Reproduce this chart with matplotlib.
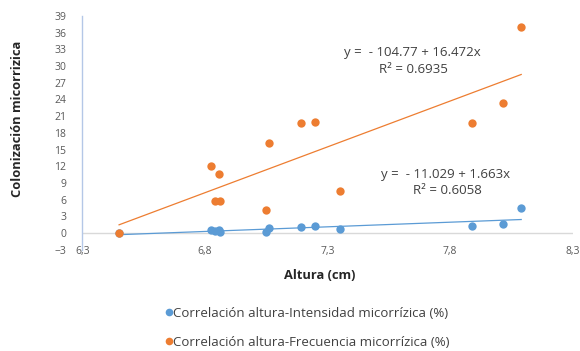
import matplotlib
matplotlib.use('Agg')
import matplotlib.pyplot as plt
from matplotlib.lines import Line2D

# ------------------------- Datos -------------------------
altura = [6.45, 6.825, 6.842, 6.859, 6.861, 7.05, 7.06, 7.192, 7.25, 7.35, 7.89, 8.015, 8.09]
intensidad = [0.0, 0.56, 0.3, 0.6, 0.12, 0.25, 0.93, 1.05, 1.17, 0.68, 1.3, 1.55, 4.45]
frecuencia = [0.0, 12.1, 5.8, 10.6, 5.8, 4.1, 16.1, 19.7, 20.0, 7.6, 19.7, 23.3, 37.0]

# coeficientes de las lineas de tendencia (intercepto, pendiente)
coef_int = (-11.029, 1.663)
coef_frec = (-104.77, 16.472)
ecuacion_int = ['y =  - 11.029 + 1.663x', 'R² = 0.6058']
ecuacion_frec = ['y =  - 104.77 + 16.472x', 'R² = 0.6935']

xticks = [6.3, 6.8, 7.3, 7.8, 8.3]
xtick_labels = ['6,3', '6,8', '7,3', '7,8', '8,3']
yticks = list(range(-3, 40, 3))

nombres = ['Correlación altura-Intensidad micorrízica (%)',
           'Correlación altura-Frecuencia micorrízica (%)']

azul = '#5B9BD5'
naranja = '#ED7D31'
gris = '#595959'

plt.rcParams['font.family'] = ['Open Sans', 'DejaVu Sans']

fig = plt.figure(figsize=(5.8, 3.51), dpi=100)
ax = fig.add_axes([82.3 / 580, 1 - 249.7 / 351, (572.7 - 82.3) / 580, (249.7 - 16) / 351])

# lineas de tendencia
xs = [min(altura), max(altura)]
ax.plot(xs, [coef_int[0] + coef_int[1] * v for v in xs], color=azul, lw=0.9, zorder=3)
ax.plot(xs, [coef_frec[0] + coef_frec[1] * v for v in xs], color=naranja, lw=0.9, zorder=3)

ax.scatter(altura, intensidad, s=36, color=azul, zorder=4, linewidths=0)
ax.scatter(altura, frecuencia, s=36, color=naranja, zorder=4, linewidths=0)

ax.axhline(0, color='#d9d9d9', lw=1, zorder=1)

ax.set_xlim(6.3, 8.3)
ax.set_ylim(-3, 39)
ax.set_xticks(xticks)
ax.set_xticklabels(xtick_labels)
ax.set_yticks(yticks)

for s in ['top', 'right', 'bottom']:
    ax.spines[s].set_visible(False)
ax.spines['left'].set_color('#b4c7e7')
ax.spines['left'].set_linewidth(1)

ax.tick_params(axis='x', length=0, pad=-2.5, labelsize=7.5, labelcolor=gris)
ax.tick_params(axis='y', length=0, pad=11.5, labelsize=7.5, labelcolor=gris)

ax.set_xlabel('Altura (cm)', fontsize=9.3, fontweight='bold', color='#262626')
ax.xaxis.set_label_coords(0.485, -0.084)
ax.set_ylabel('Colonización micorrizica', fontsize=9.3, fontweight='bold', color='#262626')
ax.yaxis.set_label_coords(-0.118, 0.559)

# ecuaciones
ax.text(7.645, 32.5, ecuacion_frec[0], ha='center', va='center', fontsize=9.5, color='#404040')
ax.text(7.65, 29.3, ecuacion_frec[1], ha='center', va='center', fontsize=9.5, color='#404040')
ax.text(7.783, 10.6, ecuacion_int[0], ha='center', va='center', fontsize=9.5, color='#404040')
ax.text(7.788, 7.7, ecuacion_int[1], ha='center', va='center', fontsize=9.5, color='#404040')

handles = [Line2D([], [], ls='', marker='o', ms=5.5, color=azul, mec='none'),
           Line2D([], [], ls='', marker='o', ms=5.5, color=naranja, mec='none')]
leg = fig.legend(handles, nombres, loc='upper center', bbox_to_anchor=(0.527, 1 - 295 / 351),
                 frameon=False, fontsize=9.5, handletextpad=-0.3, handlelength=1.2,
                 labelspacing=1.2, labelcolor='#404040')

fig.savefig('out.png', dpi=100)
